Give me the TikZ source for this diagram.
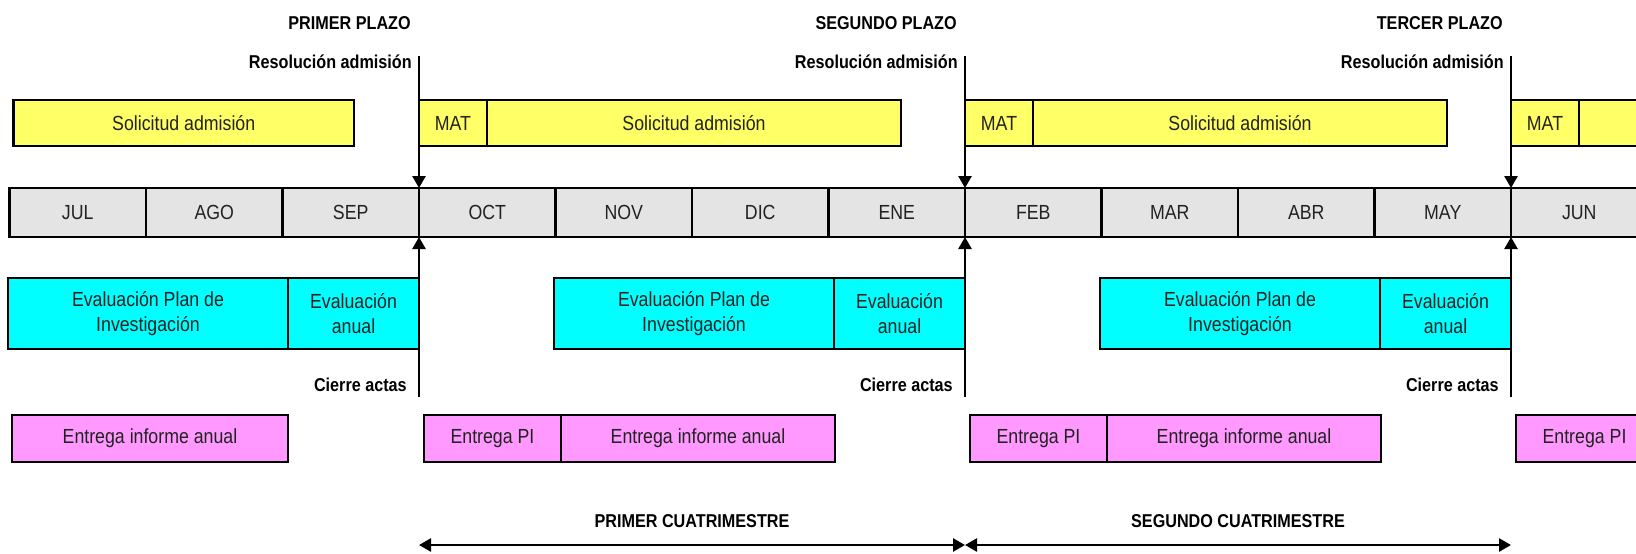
\documentclass[tikz,border=0pt]{standalone}
\usepackage{fontspec}
\setmainfont{Liberation Sans}[FakeStretch=0.87]
\usepackage{tikz}
\usetikzlibrary{arrows.meta}
\usetikzlibrary{positioning}
\definecolor{gris}{HTML}{E4E4E4}
\definecolor{amarillo}{HTML}{FFFF66}
\definecolor{celeste}{HTML}{00FFFF}
\definecolor{rosa}{HTML}{FF99FF}
\definecolor{texto}{HTML}{222222}
\tikzset{caja/.style={draw, line width=1.2pt, outer sep=0pt, inner sep=0pt, align=center,
                      text=texto, font=\fontsize{10.2}{12.5}\selectfont}}
\tikzset{mes/.style={caja, fill=gris, minimum width=68.25pt, minimum height=24.5pt}}
\tikzset{sol/.style={caja, fill=amarillo, minimum height=23pt}}
\tikzset{eva/.style={caja, fill=celeste, minimum height=35.5pt}}
\tikzset{ent/.style={caja, fill=rosa, minimum height=23.5pt}}
\tikzset{hito/.style={inner sep=0pt, font=\fontsize{9.3}{11}\selectfont\bfseries}}

\begin{document}
\begin{tikzpicture}[x=0.5pt,y=-0.5pt,>={Triangle[length=6pt,width=6.5pt]},line width=1.3pt]
   \useasboundingbox (0,0) rectangle (1636,553);
   \clip (0,0) rectangle (1636,553);

   % filas
   \coordinate (yplazo)  at (0,23);
   \coordinate (ytop)    at (0,56);
   \coordinate (yresol)  at (0,62);
   \coordinate (ysol)    at (0,123);
   \coordinate (yeva)    at (0,313.5);
   \coordinate (ycierre) at (0,385);
   \coordinate (ybot)    at (0,397);
   \coordinate (yent)    at (0,438.5);
   \coordinate (ycua)    at (0,545);

   % meses
   \node[mes, anchor=west] (JUL) at (9.5,212.5) {JUL};
   \foreach \m [remember=\m as \prev (initially JUL)] in {AGO,SEP,OCT,NOV,DIC,ENE,FEB,MAR,ABR,MAY,JUN}
      \node[mes, right=0pt of \prev] (\m) {\m};

   % plazos
   \foreach \k/\m/\plazo/\sol in {1/OCT/PRIMER/Solicitud admisión,2/FEB/SEGUNDO/Solicitud admisión,3/JUN/TERCER/} {
      \node[sol, anchor=west, minimum width=34pt] (mat\k) at (\m.west |- ysol) {MAT};
      \node[sol, right=0pt of mat\k, minimum width=207pt] (sol\k) {\sol};
      \node[eva, anchor=east, minimum width=65.5pt] (eva\k) at (\m.west |- yeva) {Evaluación\\anual};
      \node[eva, left=0pt of eva\k, minimum width=140pt] (epi\k) {Evaluación Plan de\\Investigación};
      \node[ent, anchor=west, xshift=2.5pt, minimum width=68.5pt] (pi\k) at (\m.west |- yent) {Entrega PI};

      \coordinate (res\k) at (\m.west |- ytop);
      \coordinate (cie\k) at (\m.west |- ybot);
      \draw[->] (res\k) -- (\m.north west);
      \draw[->] (cie\k) -- (\m.south west);

      \node[hito, anchor=east, xshift=-3.5pt] (plazo\k) at (\m.west |- yplazo) {\plazo\ PLAZO};
      \node[hito, anchor=east, xshift=-3pt] (resol\k) at (\m.west |- yresol) {Resolución admisión};
      \node[hito, anchor=east, xshift=-5.5pt] (cierre\k) at (\m.west |- ycierre) {Cierre actas};
      \coordinate (c\k) at (\m.west |- ycua);
   }

   \node[sol, anchor=east, xshift=-32.5pt, minimum width=170.25pt] (sol0) at (mat1.west) {Solicitud admisión};
   \node[ent, anchor=east, minimum width=138pt] (inf0) at (eva1.west |- yent) {Entrega informe anual};
   \node[ent, right=0pt of pi1, minimum width=137pt] (inf1) {Entrega informe anual};
   \node[ent, right=0pt of pi2, minimum width=137pt] (inf2) {Entrega informe anual};

   % cuatrimestres
   \draw[<->] (c1) -- (c2) node[hito, midway, above=8pt] (cua1) {PRIMER CUATRIMESTRE};
   \draw[<->] (c2) -- (c3) node[hito, midway, above=8pt] (cua2) {SEGUNDO CUATRIMESTRE};
\end{tikzpicture}
\end{document}
